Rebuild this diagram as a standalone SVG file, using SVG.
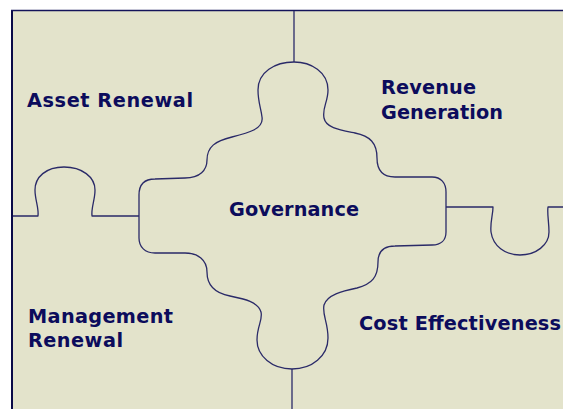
<svg xmlns="http://www.w3.org/2000/svg" width="563" height="409" viewBox="0 0 563 409">
  <style>
    .edge { fill: none; stroke: #2a2a68; stroke-width: 1.3; stroke-linejoin: round; }
    .lbl { font-family: "DejaVu Sans", Verdana, sans-serif; font-weight: bold; font-size: 19.3px; fill: #0c0c5c; }
  </style>
  <rect x="0" y="0" width="563" height="409" fill="#ffffff"/>
  <rect x="12" y="10" width="551" height="399" fill="#e3e3cb"/>
  <line x1="12" y1="10" x2="12" y2="409" stroke="#0a0a48" stroke-width="2"/>
  <line x1="11" y1="10.5" x2="563" y2="10.5" stroke="#14145a" stroke-width="1.5"/>

  <g id="connectors">
    <path class="edge" d="M294,11 V62"/>
    <path class="edge" d="M292,369 V409"/>
    <path class="edge" d="M13,216 L38,216 C39,208 35,200 35,190 C35,177 46,167 64,167 C82,167 95,177 95,190 C95,200 91,208 92,216 L139,216"/>
    <path class="edge" d="M446,207 L493,207 C493,215 490,222 491,232 C493,246 505,255 520,255 C536,255 549,245 549,232 C549,222 547,214 548,207 L563,207"/>
  </g>

  <g id="governance">
    <path class="edge" d="M294,62 C311,62 328,72 328,90 C328,102 322,108 324,118 C326,128 340,130 355,133 C370,136 377,143 377,158 C377,170 382,177 395,177 L432,177 C441,177 446,183 446,192 L446,232 C446,240 441,245 432,245 L395,246 C383,246 378,252 378,262 C378,277 372,284 357,288 C342,291 327,295 324,305 C322,315 328,322 328,338 C328,356 312,369 292,369 C272,369 257,356 257,340 C257,326 263,320 261,312 C258,302 245,299 230,296 C214,293 207,285 207,272 C207,260 198,253 185,253 L155,253 C145,253 139,247 139,238 L139,195 C139,184 145,179 155,179 L185,178 C200,178 207,170 207,160 C207,147 215,141 232,137 C248,133 264,129 262,117 C261,108 258,102 258,90 C258,72 275,62 294,62 Z"/>
    <text class="lbl" x="229" y="216" textLength="130" lengthAdjust="spacing">Governance</text>
  </g>
  <g id="asset-renewal">
    <text class="lbl" x="27" y="107" textLength="166" lengthAdjust="spacing">Asset Renewal</text>
  </g>
  <g id="revenue-generation">
    <text class="lbl" x="381" y="94" textLength="95" lengthAdjust="spacing">Revenue</text>
    <text class="lbl" x="381" y="119" textLength="122" lengthAdjust="spacing">Generation</text>
  </g>
  <g id="management-renewal">
    <text class="lbl" x="28" y="323" textLength="145" lengthAdjust="spacing">Management</text>
    <text class="lbl" x="28" y="347" textLength="95" lengthAdjust="spacing">Renewal</text>
  </g>
  <g id="cost-effectiveness">
    <text class="lbl" x="359" y="330" textLength="202" lengthAdjust="spacing">Cost Effectiveness</text>
  </g>
</svg>
